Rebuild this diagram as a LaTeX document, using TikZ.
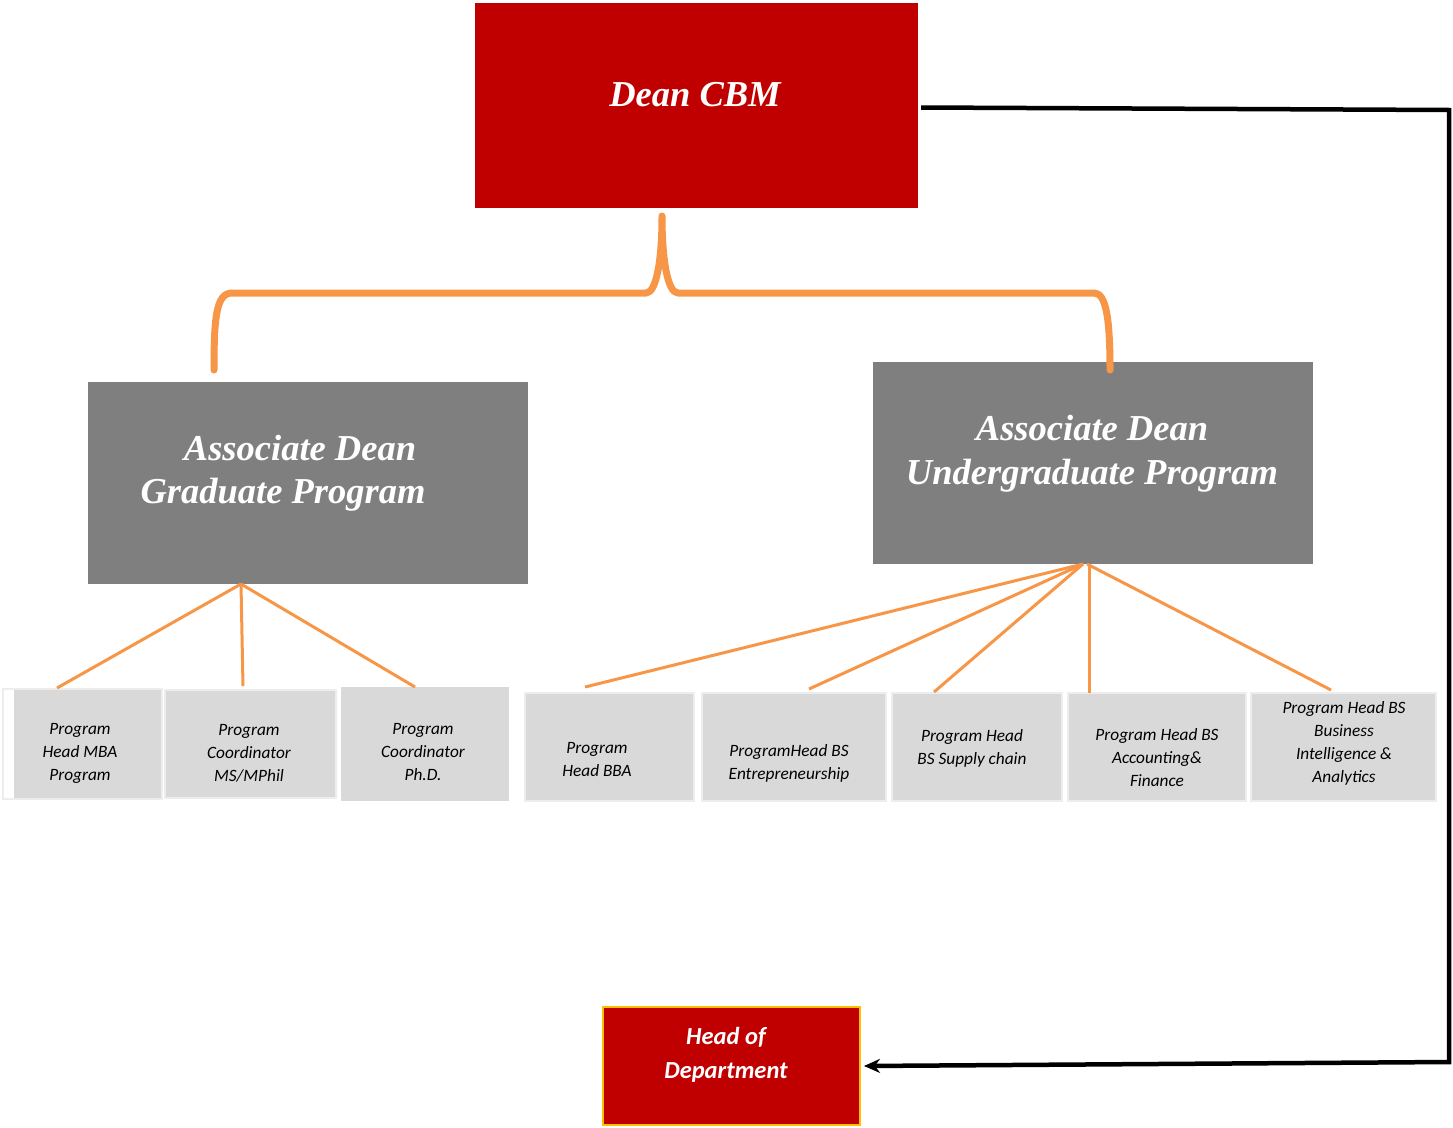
\documentclass[tikz,border=0pt]{standalone}
\usepackage{fontspec}
\setmainfont{Liberation Serif}
\newfontfamily\carlito{Carlito}
\usetikzlibrary{arrows.meta}
\definecolor{deanred}{HTML}{C00000}
\definecolor{adgray}{HTML}{7F7F7F}
\definecolor{brorange}{HTML}{F79646}
\definecolor{boxgray}{HTML}{D9D9D9}
\definecolor{boxline}{HTML}{EDEDED}
\definecolor{hodgold}{HTML}{FFC000}
\begin{document}
\begin{tikzpicture}[x=1pt,y=-1pt,
  redbox/.style={rectangle,fill=deanred,inner sep=0pt,outer sep=0pt},
  graybox/.style={rectangle,fill=adgray,inner sep=0pt,outer sep=0pt,minimum width=440pt,minimum height=202pt},
  bigtext/.style={text=white,font=\bfseries\itshape\fontsize{36.5}{44}\selectfont,align=center,inner sep=0pt},
  smallbox/.style={rectangle,fill=boxgray,draw=boxline,line width=2pt,inner sep=0pt,outer sep=0pt},
  smalltext/.style={text=black,font=\carlito\itshape\fontsize{17.3}{23}\selectfont,align=center,inner sep=0pt},
  brace/.style={draw=brorange,line width=7pt,line cap=round,line join=round},
  branch/.style={draw=brorange,line width=3pt},
  feedback/.style={draw=black,line width=4.5pt,-{Stealth[length=16pt,width=14pt]}}
]
\useasboundingbox (0,0) rectangle (1453,1127);

% Dean
\node[redbox,minimum width=443pt,minimum height=205pt] (dean) at (696.5,105.5) {};
\node[bigtext] (deant) at (695,95) {Dean CBM};

% Associate deans
\node[graybox] (gd) at (308,483) {};
\node[bigtext] (gdt1) at (300,448) {Associate Dean};
\node[bigtext] (gdt2) at (283,495) {Graduate Program};
\node[graybox] (ug) at (1093,463) {};
\node[bigtext] (ugt) at (1092,454) {Associate Dean\\Undergraduate Program};

% brace
\coordinate (brl) at (214,370);
\coordinate (brm) at (662,216);
\coordinate (brr) at (1110,370);
\draw[brace] (brl) .. controls (214,318) and (216,293) .. (232,293) -- (646,293)
  .. controls (656,293) and (662,262) .. (brm)
  .. controls (662,262) and (668,293) .. (678,293) -- (1094,293)
  .. controls (1106,293) and (1110,318) .. (brr);

% small boxes graduate
\node[smallbox,minimum width=159pt,minimum height=110pt] (b1) at (82.5,744) {};
\fill[white] (4,690) rectangle (14,798);
\node[smallbox,minimum width=171pt,minimum height=108pt] (b2) at (250.5,744) {};
\node[smallbox,draw=none,minimum width=168pt,minimum height=114pt] (b3) at (425,744) {};
\node[smalltext] (b1t) at (80,753) {Program\\Head MBA\\Program};
\node[smalltext] (b2t) at (249,753) {Program\\Coordinator\\MS/MPhil};
\node[smalltext] (b3t) at (423,752) {Program\\Coordinator\\Ph.D.};

% small boxes undergraduate
\node[smallbox,minimum width=169pt,minimum height=108pt] (u1) at (609.5,747) {};
\node[smallbox,minimum width=184pt,minimum height=108pt] (u2) at (794,747) {};
\node[smallbox,minimum width=170pt,minimum height=108pt] (u3) at (977,747) {};
\node[smallbox,minimum width=178pt,minimum height=108pt] (u4) at (1157,747) {};
\node[smallbox,minimum width=185pt,minimum height=108pt] (u5) at (1343.5,747) {};
\node[smalltext] (u1t) at (597,759) {Program\\Head BBA};
\node[smalltext] (u2t) at (789,763) {ProgramHead BS\\Entrepreneurship};
\node[smalltext] (u3t) at (972,748) {Program Head\\BS Supply chain};
\node[smalltext] (u4t) at (1157,758) {Program Head BS\\Accounting\&\\Finance};
\node[smalltext] (u5t) at (1344,743) {Program Head BS\\Business\\Intelligence \&\\Analytics};

% branches
\draw[branch] ([xshift=-67pt]gd.south) -- ([xshift=-25.5pt,yshift=1pt]b1.north);
\draw[branch] ([xshift=-67pt]gd.south) -- ([xshift=-7.5pt,yshift=4pt]b2.north);
\draw[branch] ([xshift=-67pt]gd.south) -- ([xshift=-10pt]b3.north);
\draw[branch] ([xshift=-10pt]ug.south) -- ([xshift=-24.5pt,yshift=6pt]u1.north);
\draw[branch] ([xshift=-10pt]ug.south) -- ([xshift=15pt,yshift=4pt]u2.north);
\draw[branch] ([xshift=-10pt]ug.south) -- ([xshift=-43pt,yshift=1pt]u3.north);
\draw[branch] ([xshift=-4pt]ug.south) -- ([xshift=-68pt]u4.north);
\draw[branch] ([xshift=-6pt]ug.south) -- ([xshift=-12.5pt,yshift=3pt]u5.north);

% head of department
\node[redbox,draw=hodgold,line width=2pt,minimum width=257pt,minimum height=118pt] (hod) at (731.5,1066) {};
\node[text=white,font=\carlito\bfseries\itshape\fontsize{24.5}{34}\selectfont,align=center,inner sep=0pt] (hodt) at (726,1055) {Head of\\Department};

% feedback connector
\coordinate (c1) at (1449,110);
\coordinate (c2) at (1449,1062);
\draw[feedback] ([xshift=3pt,yshift=-2pt]dean.east) -- (c1) -- (c2) -- ([xshift=4pt]hod.east);
\end{tikzpicture}
\end{document}
